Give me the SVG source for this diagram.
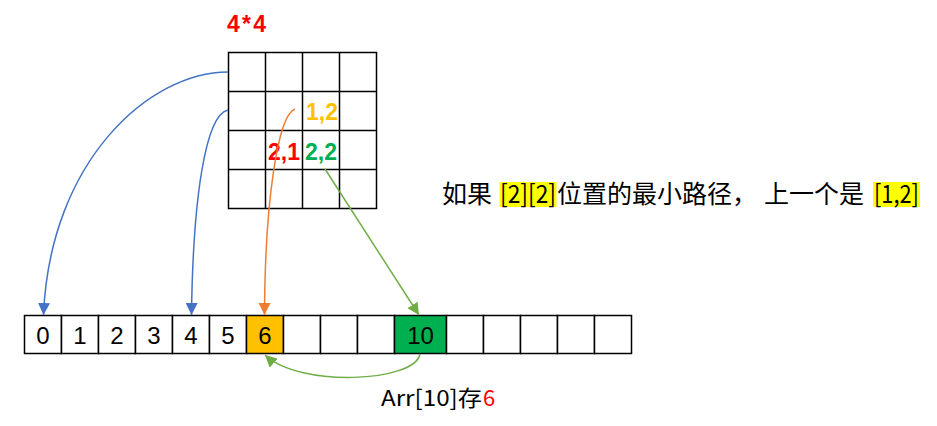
<svg xmlns="http://www.w3.org/2000/svg" width="937" height="426" viewBox="0 0 937 426">
<style>
.cell{fill:#FFFFFF;stroke:#000000;stroke-width:1.5}
.gl{stroke:#000000;stroke-width:1.5;fill:none}
.num{font-family:"Liberation Sans","Noto Sans CJK SC",sans-serif;font-size:24px;fill:#000000;text-anchor:middle}
.lab{font-family:"Liberation Sans","Noto Sans CJK SC",sans-serif;font-size:23px;font-weight:bold}
.cjk{font-family:"Noto Sans CJK SC","Liberation Sans",sans-serif;font-size:25px;fill:#000000}
.conn{fill:none;stroke-width:1.5}
</style>
<defs>
<marker id="ab" markerUnits="userSpaceOnUse" markerWidth="12" markerHeight="12" viewBox="0 0 10 10" refX="10" refY="5" orient="auto"><path d="M0,0 L10,5 L0,10 z" fill="#4472C4"/></marker>
<marker id="ao" markerUnits="userSpaceOnUse" markerWidth="12" markerHeight="12" viewBox="0 0 10 10" refX="10" refY="5" orient="auto"><path d="M0,0 L10,5 L0,10 z" fill="#ED7D31"/></marker>
<marker id="ag" markerUnits="userSpaceOnUse" markerWidth="12" markerHeight="12" viewBox="0 0 10 10" refX="10" refY="5" orient="auto"><path d="M0,0 L10,5 L0,10 z" fill="#70AD47"/></marker>
</defs>
<rect width="937" height="426" fill="#FFFFFF"/>

<g id="title">
<text class="lab" x="227" y="32" fill="#FF0000" font-size="21" textLength="39">4*4</text>
</g>

<g id="grid">
<rect x="228.5" y="52.5" width="148" height="156" fill="#FFFFFF" class="gl"/>
<path class="gl" d="M265.5,52.5V208.5M302.5,52.5V208.5M339.5,52.5V208.5M228.5,91.5H376.5M228.5,130.5H376.5M228.5,169.5H376.5"/>
<text class="lab" x="306" y="120" fill="#FFC000">1,2</text>
<text class="lab" x="268" y="160" fill="#FF0000">2,1</text>
<text class="lab" x="305" y="160" fill="#00B050">2,2</text>
</g>

<g id="array">
<rect class="cell" x="24.5" y="315.5" width="37" height="38"/>
<rect class="cell" x="61.5" y="315.5" width="37" height="38"/>
<rect class="cell" x="98.5" y="315.5" width="37" height="38"/>
<rect class="cell" x="135.5" y="315.5" width="37" height="38"/>
<rect class="cell" x="172.5" y="315.5" width="37" height="38"/>
<rect class="cell" x="209.5" y="315.5" width="37" height="38"/>
<rect class="cell" x="246.5" y="315.5" width="37" height="38" style="fill:#FFC000"/>
<rect class="cell" x="283.5" y="315.5" width="37" height="38"/>
<rect class="cell" x="320.5" y="315.5" width="37" height="38"/>
<rect class="cell" x="357.5" y="315.5" width="37" height="38"/>
<rect class="cell" x="394.5" y="315.5" width="52" height="38" style="fill:#00B050"/>
<rect class="cell" x="446.5" y="315.5" width="37" height="38"/>
<rect class="cell" x="483.5" y="315.5" width="37" height="38"/>
<rect class="cell" x="520.5" y="315.5" width="37" height="38"/>
<rect class="cell" x="557.5" y="315.5" width="37" height="38"/>
<rect class="cell" x="594.5" y="315.5" width="37" height="38"/>
<text class="num" x="43" y="344">0</text>
<text class="num" x="80" y="344">1</text>
<text class="num" x="117" y="344">2</text>
<text class="num" x="154" y="344">3</text>
<text class="num" x="191" y="344">4</text>
<text class="num" x="228" y="344">5</text>
<text class="num" x="265" y="344">6</text>
<text class="num" x="420.5" y="344">10</text>
</g>

<g id="note">
<text class="cjk" x="442" y="203">如果</text>
<rect x="499.5" y="182" width="57" height="25" fill="#FFFF00"/>
<text class="cjk" x="500" y="203" textLength="56" lengthAdjust="spacingAndGlyphs">[2][2]</text>
<text class="cjk" x="557" y="203">位置的最小路径，</text>
<text class="cjk" x="764" y="203">上一个是</text>
<rect x="873" y="182" width="47" height="25" fill="#FFFF00"/>
<text class="cjk" x="874" y="203" textLength="45" lengthAdjust="spacingAndGlyphs">[1,2]</text>
</g>

<g id="caption">
<text x="381" y="406" font-family="Noto Sans CJK SC, Liberation Sans, sans-serif" font-size="22" fill="#000000" textLength="101" lengthAdjust="spacingAndGlyphs">Arr[10]存</text>
<text x="483" y="406" font-family="Noto Sans CJK SC, Liberation Sans, sans-serif" font-size="22" fill="#FF0000">6</text>
</g>

<g id="connectors">
<path class="conn" stroke="#4472C4" marker-end="url(#ab)" d="M228,72 C150,72 50,160 43.5,315"/>
<path class="conn" stroke="#4472C4" marker-end="url(#ab)" d="M228,110 C205,115 193,200 191.5,315"/>
<path class="conn" stroke="#ED7D31" marker-end="url(#ao)" d="M295,109 C278,115 265,200 264.5,315"/>
<path class="conn" stroke="#70AD47" stroke-width="2" marker-end="url(#ag)" d="M325,169 L419,315"/>
<path class="conn" stroke="#70AD47" stroke-width="2" marker-end="url(#ag)" d="M420,354 C415,382 300,388 265,355"/>
</g>
</svg>
